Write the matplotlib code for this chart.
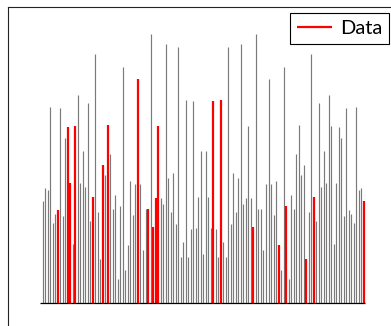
import numpy as np
import matplotlib
matplotlib.use("Agg")
import matplotlib.pyplot as plt

# stem heights (pixel units above the baseline)
heights = [
    102, 115, 113, 196, 80, 89, 93, 195, 87, 165, 176, 120, 59, 177, 208, 120,
    152, 116, 200, 82, 106, 249, 91, 44, 138, 128, 178, 149, 94, 108, 24, 97,
    236, 33, 58, 122, 88, 119, 224, 119, 53, 94, 94, 269, 76, 105, 177, 105,
    99, 259, 125, 91, 130, 79, 256, 46, 61, 203, 46, 74, 202, 75, 106, 152,
    49,
    152, 106, 75, 202, 74, 46, 203, 61, 46, 256, 79, 130, 91, 125, 259, 99,
    105, 177, 105, 76, 269, 94, 94, 53, 119, 224, 119, 88, 122, 58, 33, 236,
    97, 24, 108, 94, 149, 178, 128, 138, 44, 91, 249, 106, 82, 200, 116, 152,
    120, 208, 177, 59, 120, 176, 165, 87, 195, 93, 89, 80, 196, 113, 115, 102,
]
# stems drawn in red
highlight = [6, 10, 11, 13, 20, 24, 26, 38, 42, 44, 45, 46,
             68, 71, 84, 94, 97, 105, 108, 128]
legend_label = "Data"

W, H = 391, 326
fig = plt.figure(figsize=(W / 100, H / 100), dpi=100)

# axes box runs past the right and bottom edge of the image
left_px, top_px, right_px, bottom_px = 7.5, 6.5, 400, 340
ax = fig.add_axes([left_px / W, 1 - bottom_px / H,
                   (right_px - left_px) / W, (bottom_px - top_px) / H])

x = np.arange(len(heights))
y = np.array(heights)
red = np.zeros(len(heights), dtype=bool)
red[highlight] = True

ax.vlines(x[~red], 0, y[~red], color="#7a7a7a", linewidth=0.85)
ax.vlines(x[red], 0, y[red], color="red", linewidth=1.6, label=legend_label)
ax.hlines(0, x[0] - 0.9, x[-1] + 0.4, color="black", linewidth=0.9)

base_px = 302.5
first_px, step_px = 42.6, 2.51
ax.set_ylim(-(bottom_px - base_px), base_px - top_px)
ax.set_xlim(-(first_px - left_px) / step_px, (right_px - first_px) / step_px)

ax.set_xticks([])
ax.set_yticks([])
for s in ["top", "left"]:
    ax.spines[s].set_color("#222222")
    ax.spines[s].set_linewidth(0.8)

leg = ax.legend(loc="upper right", bbox_to_anchor=(389 / W, 1 - 13.3 / H),
                bbox_transform=fig.transFigure, borderaxespad=0,
                prop={"family": "Lato", "size": 14.5}, fancybox=False,
                framealpha=1, edgecolor="black", handlelength=1.7,
                handletextpad=0.4, borderpad=0.35)
leg.get_frame().set_linewidth(0.8)

fig.savefig("out.png", dpi=100)
